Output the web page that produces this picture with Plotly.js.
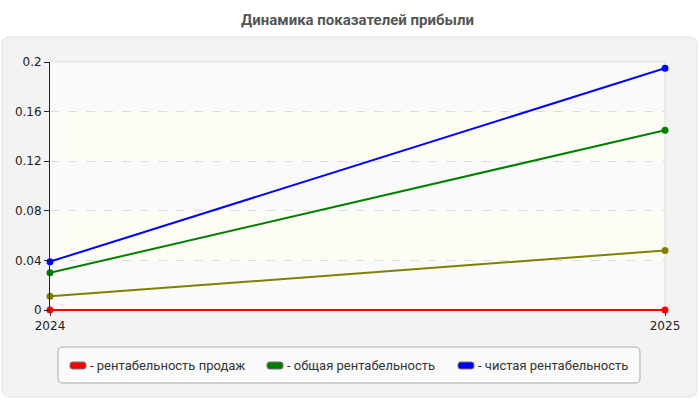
<!DOCTYPE html>
<html>
<head>
<meta charset="utf-8">
<script src="https://cdn.plot.ly/plotly-3.0.1.min.js"></script>
<style>html,body{margin:0;padding:0;background:#fff;}#chart{width:700px;height:400px;}</style>
</head>
<body>
<div id="chart"></div>
<script>
const years = ['2024', '2025'];
const salesReturn = [0, 0];
const totalReturn = [0.03, 0.145];
const netReturn = [0.039, 0.195];
const otherReturn = [0.011, 0.048];
const seriesNames = ['- рентабельность продаж', '- общая рентабельность', '- чистая рентабельность'];
const seriesColors = ['#ff0000', '#008000', '#0000ff'];
const yTicks = [0, 0.04, 0.08, 0.12, 0.16, 0.2];

function line(y, color) {
  return {
    x: years, y: y, type: 'scatter', mode: 'lines+markers',
    showlegend: false, cliponaxis: false,
    line: {color: color, width: 2},
    marker: {color: color, size: 7}
  };
}
const traces = [
  line(otherReturn, '#808000'),
  line(totalReturn, seriesColors[1]),
  line(netReturn, seriesColors[2]),
  line(salesReturn, seriesColors[0])
];

const W = 615, H = 249, L = 50, T = 62;
function px(x){ return (x - L) / W; }
function py(y){ return (T + H - y) / H; }
function roundRect(x0, y0, x1, y1, r) {
  const rx = r / W, ry = r / H;
  const X0 = px(x0), X1 = px(x1), Y0 = py(y0), Y1 = py(y1);
  return `M${X0+rx},${Y0} L${X1-rx},${Y0} Q${X1},${Y0} ${X1},${Y0-ry} L${X1},${Y1+ry} Q${X1},${Y1} ${X1-rx},${Y1} L${X0+rx},${Y1} Q${X0},${Y1} ${X0},${Y1+ry} L${X0},${Y0-ry} Q${X0},${Y0} ${X0+rx},${Y0} Z`;
}

const shapes = [
  {type: 'path', xref: 'paper', yref: 'paper', layer: 'below', path: roundRect(2, 37, 697, 397, 8),
   fillcolor: '#f3f3f3', line: {color: '#e2e2e2', width: 1}},
  {type: 'rect', xref: 'paper', yref: 'paper', layer: 'below', x0: 0, x1: 1, y0: 0, y1: 1,
   fillcolor: '#fafafa', line: {width: 0}},
  {type: 'rect', xref: 'paper', yref: 'y', layer: 'below', x0: 0, x1: 1, y0: yTicks[1], y1: yTicks[2],
   fillcolor: '#fdfdf6', line: {width: 0}},
  {type: 'rect', xref: 'paper', yref: 'y', layer: 'below', x0: 0, x1: 1, y0: yTicks[3], y1: yTicks[4],
   fillcolor: '#fdfdf6', line: {width: 0}},
  {type: 'path', xref: 'paper', yref: 'paper', layer: 'below', path: roundRect(58, 347, 640, 383, 5),
   fillcolor: '#fafafa', line: {color: '#aaaaaa', width: 1}},
  {type: 'line', xref: 'paper', yref: 'paper', x0: 0, x1: 1, y0: 1, y1: 1, layer: 'below',
   line: {color: '#dddddd', width: 1}},
  {type: 'line', xref: 'paper', yref: 'paper', x0: 1, x1: 1, y0: 0, y1: 1, layer: 'below',
   line: {color: '#dddddd', width: 1}}
];

// custom legend (rounded swatches + labels)
const legendX = [70, 267, 458];
const annotations = [];
seriesNames.forEach((name, i) => {
  shapes.push({type: 'path', xref: 'paper', yref: 'paper',
    path: roundRect(legendX[i], 362, legendX[i] + 16, 369, 2.5),
    fillcolor: seriesColors[i], line: {color: '#777777', width: 1}});
  annotations.push({xref: 'paper', yref: 'paper', x: px(legendX[i] + 18), y: py(365.5),
    xanchor: 'left', yanchor: 'middle', showarrow: false, text: name,
    font: {family: 'Roboto, sans-serif', size: 13, color: '#333333'}});
});

const layout = {
  width: 700, height: 400,
  margin: {l: L, r: 700 - L - W, t: T, b: 400 - T - H},
  paper_bgcolor: '#ffffff',
  plot_bgcolor: 'rgba(0,0,0,0)',
  font: {family: 'Roboto, "DejaVu Sans", sans-serif', size: 12, color: '#222'},
  title: {text: '<b>Динамика показателей прибыли</b>', x: 0.5, xref: 'paper', xanchor: 'center', y: 0.95, yanchor: 'middle',
          font: {family: 'Roboto, sans-serif', size: 15, color: '#555555'}},
  xaxis: {type: 'category', range: [0, 1], showgrid: false, zeroline: false,
          showline: false, ticks: 'outside', ticklen: 4, tickcolor: '#333',
          tickfont: {family: '"DejaVu Sans", sans-serif', size: 12, color: '#222'}},
  yaxis: {range: [-0.0008, 0.2], tickvals: yTicks, ticktext: yTicks.map(String),
          showgrid: true, gridcolor: '#dddddd', griddash: 'dash', gridwidth: 1,
          zeroline: false, showline: true, linecolor: '#222', linewidth: 1,
          ticks: 'outside', ticklen: 5, tickcolor: '#222',
          tickfont: {family: '"DejaVu Sans", sans-serif', size: 12, color: '#222'}},
  showlegend: false,
  shapes: shapes,
  annotations: annotations
};

Plotly.newPlot('chart', traces, layout, {displayModeBar: false, staticPlot: true});
</script>
</body>
</html>
